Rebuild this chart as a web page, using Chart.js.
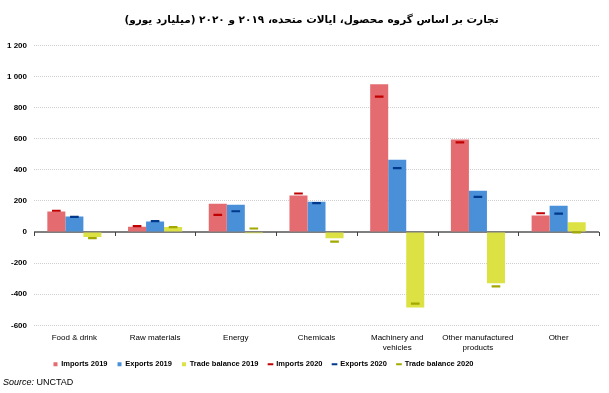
<!DOCTYPE html>
<html>
<head>
<meta charset="utf-8">
<script src="https://cdn.jsdelivr.net/npm/chart.js@4.4.1/dist/chart.umd.min.js"></script>
<style>
  html, body { margin: 0; padding: 0; background: #fff; }
  #wrap { position: relative; width: 609px; height: 393px; }
  #source { position: absolute; left: 3px; top: 377px; font: 9px 'Liberation Sans', Arial, sans-serif; color: #000; }
</style>
</head>
<body>
<div id="wrap">
  <canvas id="chart" width="609" height="393"></canvas>
  <div id="source"><i>Source:</i> UNCTAD</div>
</div>
<script>
const title = 'تجارت بر اساس گروه محصول، ایالات متحده، ۲۰۱۹ و ۲۰۲۰ (میلیارد یورو)';
const categories = ['Food & drink', 'Raw materials', 'Energy', 'Chemicals', ['Machinery and', 'vehicles'], ['Other manufactured', 'products'], 'Other'];

const imports2019 = [132, 35, 182, 235, 951, 595, 106];
const exports2019 = [100, 68, 175, 195, 466, 266, 169];
const balance2019 = [-32, 33, -7, -40, -485, -329, 63];
const imports2020 = [137, 38, 111, 248, 872, 577, 121];
const exports2020 = [98, 70, 134, 186, 412, 227, 119];
const balance2020 = [-39, 32, 23, -62, -460, -350, -2];

// 2020 values are drawn as short dashes: thin floating bars inside the 2019 slot
const half = 7;
const dash = arr => arr.map(v => [v - half, v + half]);

const zeroLine = {
  id: 'zeroLine',
  afterLayout(chart) {
    // legend sits closer to the axis labels and a bit left of centre, like the original
    const lg = chart.legend;
    lg.top -= 10; lg.bottom -= 10;
    lg.left -= 36; lg.right -= 36;
    // title is centred a little right of the canvas middle
    const tb = chart.titleBlock;
    tb.left += 12; tb.right += 12;
  },
  beforeDatasetsDraw(chart) {
    const { ctx, chartArea, scales } = chart;
    const y = Math.round(scales.y.getPixelForValue(0));
    ctx.save();
    ctx.strokeStyle = '#7f7f7f';
    ctx.lineWidth = 2;
    ctx.beginPath();
    ctx.moveTo(chartArea.left, y);
    ctx.lineTo(chartArea.right, y);
    ctx.stroke();
    ctx.lineWidth = 1;
    ctx.strokeStyle = '#404040';
    for (let i = 0; i <= categories.length; i++) {
      const x = Math.round(chartArea.left + (chartArea.right - chartArea.left) * i / categories.length) + 0.5;
      ctx.beginPath();
      ctx.moveTo(x, y);
      ctx.lineTo(x, y + 4);
      ctx.stroke();
    }
    ctx.restore();
  }
};

new Chart(document.getElementById('chart'), {
  type: 'bar',
  data: {
    labels: categories,
    datasets: [
      { label: 'Imports 2019', data: imports2019, backgroundColor: '#E46C70', stack: 'imp', order: 1 },
      { label: 'Exports 2019', data: exports2019, backgroundColor: '#4A90D9', stack: 'exp', order: 1 },
      { label: 'Trade balance 2019', data: balance2019, backgroundColor: '#DCE244', stack: 'tb', order: 1 },
      { label: 'Imports 2020', data: dash(imports2020), backgroundColor: '#C00000', stack: 'imp', order: 0, barPercentage: 0.48 },
      { label: 'Exports 2020', data: dash(exports2020), backgroundColor: '#00388C', stack: 'exp', order: 0, barPercentage: 0.48 },
      { label: 'Trade balance 2020', data: dash(balance2020), backgroundColor: '#A2A800', stack: 'tb', order: 0, barPercentage: 0.48 }
    ]
  },
  options: {
    responsive: false,
    animation: false,
    categoryPercentage: 0.67,
    barPercentage: 1,
    layout: { padding: { left: 0, right: 10, bottom: 5 } },
    plugins: {
      title: {
        display: true,
        text: title,
        color: '#000',
        font: { family: 'DejaVu Sans', size: 10.5, weight: 'bold' },
        padding: { top: 14, bottom: 19 }
      },
      legend: {
        position: 'bottom',
        labels: {
          color: '#000',
          font: { family: 'Liberation Sans', size: 7.5, weight: 'bold' },
          usePointStyle: true,
          boxWidth: 4,
          boxHeight: 4,
          padding: 10,
          generateLabels(chart) {
            return chart.data.datasets.map((ds, i) => ({
              text: ds.label,
              fillStyle: ds.backgroundColor,
              strokeStyle: ds.backgroundColor,
              lineWidth: i < 3 ? 0 : 2,
              pointStyle: i < 3 ? 'rect' : 'line',
              fontColor: '#000',
              datasetIndex: i
            }));
          }
        }
      },
      tooltip: { enabled: false }
    },
    scales: {
      x: {
        grid: { display: false, drawTicks: false },
        border: { display: false },
        ticks: {
          color: '#000',
          padding: 8,
          maxRotation: 0,
          autoSkip: false,
          font: { family: 'Liberation Sans', size: 8 }
        }
      },
      y: {
        stacked: false,
        min: -600,
        max: 1200,
        grid: {
          drawTicks: false,
          color: ctx => ctx.tick && ctx.tick.value === 0 ? 'rgba(0,0,0,0)' : '#cfcfcf'
        },
        border: { display: false, dash: [1, 1] },
        ticks: {
          stepSize: 200,
          padding: 7,
          color: '#000',
          font: { family: 'Liberation Sans', size: 8, weight: 'bold' },
          callback: v => String(v).replace(/\B(?=(\d{3})+(?!\d))/g, ' ')
        }
      }
    }
  },
  plugins: [zeroLine]
});
</script>
</body>
</html>
